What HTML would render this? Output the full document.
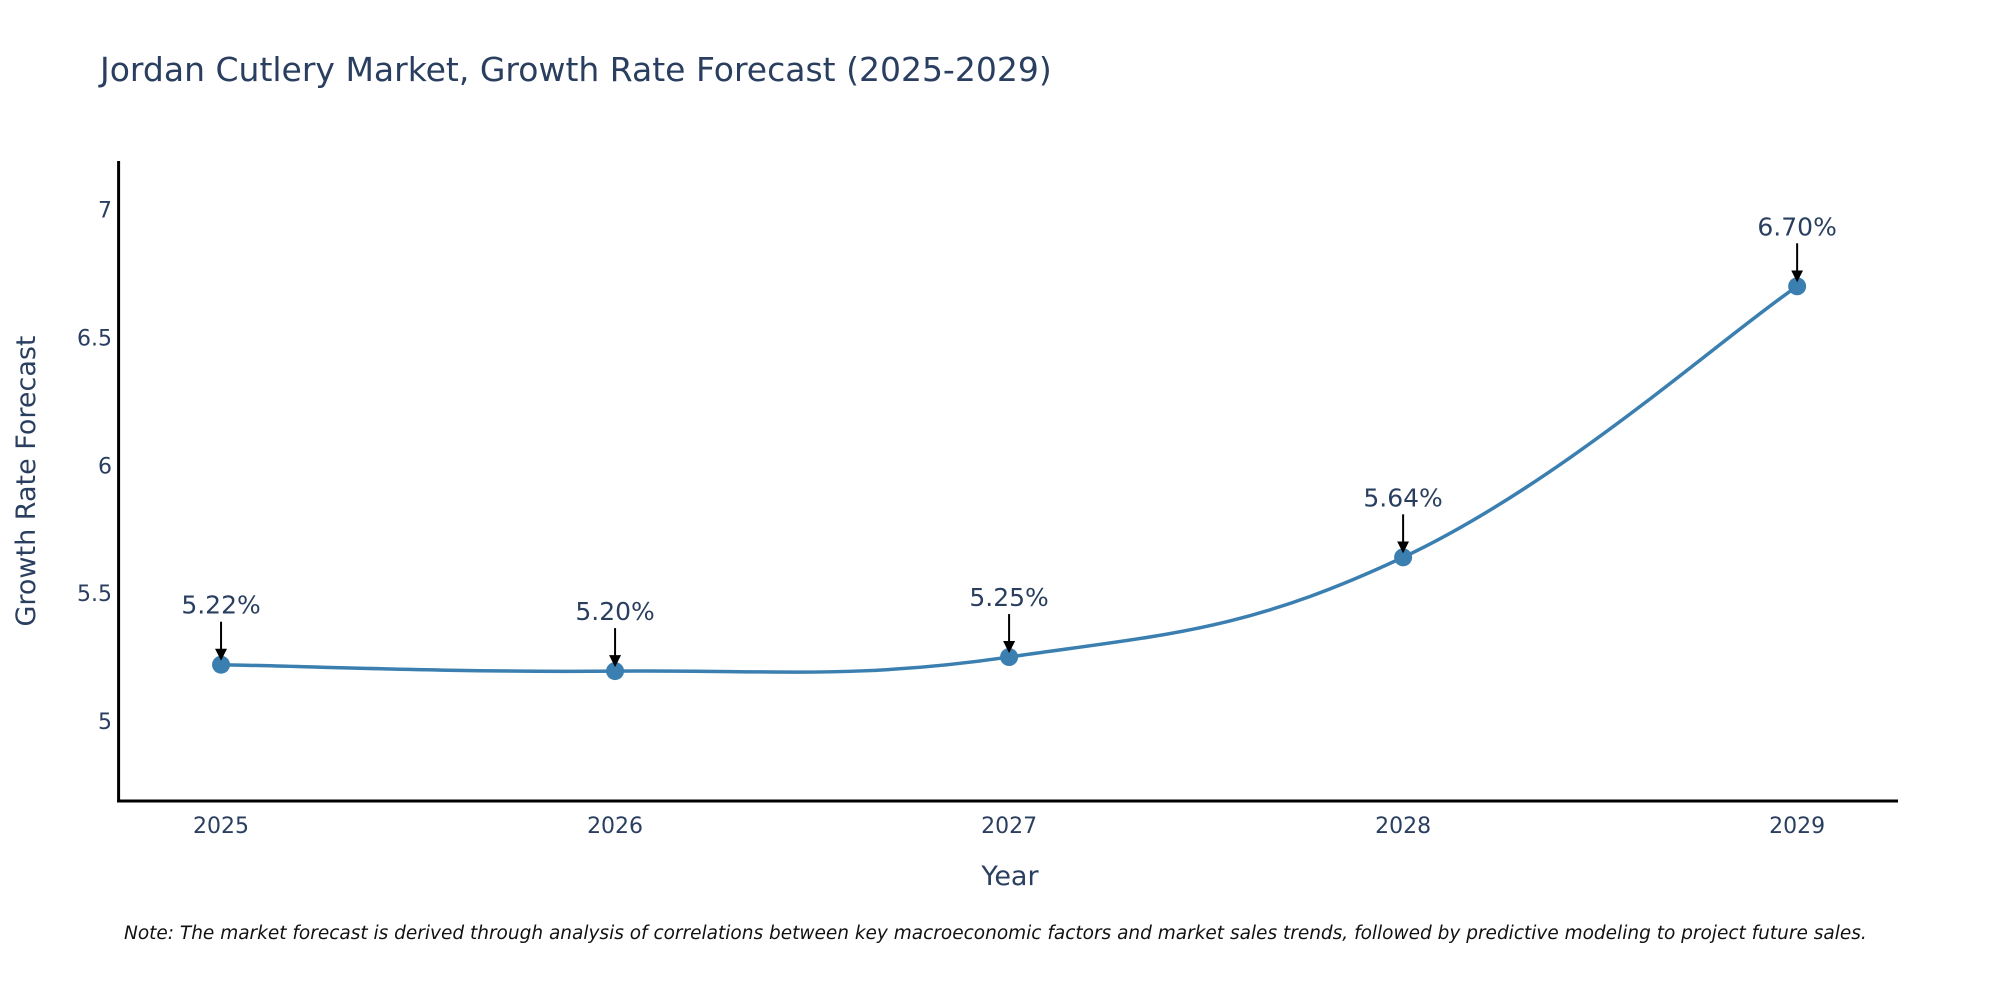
<!DOCTYPE html>
<html><head><meta charset="utf-8"><style>
body{margin:0;background:#fff;}
svg text{font-family:"DejaVu Sans","Liberation Sans",sans-serif;}
</style></head><body>
<svg width="2000" height="1000" xmlns="http://www.w3.org/2000/svg">
<defs><marker id="ah" markerWidth="6" markerHeight="6" refX="5" refY="3" orient="auto" markerUnits="strokeWidth"><path d="M0,0 L6,3 L0,6 z" fill="#000"/></marker></defs>
<text x="100" y="81" font-size="33" fill="#2a3f5f">Jordan Cutlery Market, Growth Rate Forecast (2025-2029)</text>
<g id="plot"></g>
<text x="0" y="0" transform="translate(35,481) rotate(-90)" text-anchor="middle" font-size="27" fill="#2a3f5f">Growth Rate Forecast</text>
<text x="1010" y="885" text-anchor="middle" font-size="27" fill="#2a3f5f">Year</text>
<text x="124" y="939" font-size="18.5" font-style="italic" fill="#111">Note: The market forecast is derived through analysis of correlations between key macroeconomic factors and market sales trends, followed by predictive modeling to project future sales.</text>
</svg>
<script>
const years=[2025,2026,2027,2028,2029];
const values=[5.22,5.195,5.25,5.64,6.70];
const labels=["5.22%","5.20%","5.25%","5.64%","6.70%"];
const yTicks=[5,5.5,6,6.5,7];
const yTickLabels=["5","5.5","6","6.5","7"];
const NS="http://www.w3.org/2000/svg";
const g=document.getElementById('plot');
const X0=118.6,X1=1898,Y0=801,Y1=161;
const xMin=2024.74,xMax=2029.256,yMin=4.687,yMax=7.19;
const xs=v=>X0+(v-xMin)/(xMax-xMin)*(X1-X0);
const ys=v=>Y0-(v-yMin)/(yMax-yMin)*(Y0-Y1);
function mk(t,a){const e=document.createElementNS(NS,t);for(const k in a)e.setAttribute(k,a[k]);g.appendChild(e);return e;}
let e;
e=mk('line',{x1:X0,y1:Y1,x2:X0,y2:Y0+1.5,stroke:'#000','stroke-width':3});


e=mk('line',{x1:X0-1.5,y1:Y0,x2:X1,y2:Y0,stroke:'#000','stroke-width':3});


yTicks.forEach((t,i)=>{e=mk('text',{x:112,y:ys(t)+8,'text-anchor':'end','font-size':22,fill:'#2a3f5f'});e.textContent=yTickLabels[i];

});
years.forEach(yr=>{e=mk('text',{x:xs(yr),y:833,'text-anchor':'middle','font-size':22,fill:'#2a3f5f'});e.textContent=String(yr);

});
const pts=years.map((yr,i)=>[xs(yr),ys(values[i])]);
let d=`M${pts[0][0]},${pts[0][1]}`;const s=0.2;
for(let i=0;i<pts.length-1;i++){const p0=pts[Math.max(i-1,0)],p1=pts[i],p2=pts[i+1],p3=pts[Math.min(i+2,pts.length-1)];
d+=` C${p1[0]+(p2[0]-p0[0])*s},${p1[1]+(p2[1]-p0[1])*s} ${p2[0]-(p3[0]-p1[0])*s},${p2[1]-(p3[1]-p1[1])*s} ${p2[0]},${p2[1]}`;}
e=mk('path',{d:d,fill:'none',stroke:'#3a7fb0','stroke-width':3.5});


pts.forEach((p,i)=>{
e=mk('circle',{cx:p[0],cy:p[1],r:9,fill:'#3a7fb0'});


e=mk('line',{x1:p[0],y1:p[1]-43,x2:p[0],y2:p[1]-6,stroke:'#000','stroke-width':2,'marker-end':'url(#ah)'});


e=mk('text',{x:p[0],y:p[1]-51,'text-anchor':'middle','font-size':25,fill:'#2a3f5f'});e.textContent=labels[i];


});
</script>
</body></html>
